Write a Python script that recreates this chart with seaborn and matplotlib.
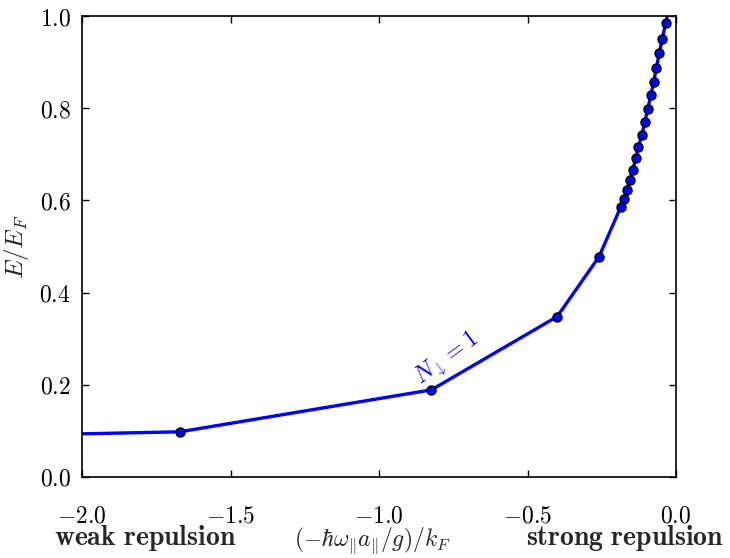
import matplotlib
matplotlib.use("Agg")
import matplotlib.pyplot as plt
from matplotlib.ticker import FuncFormatter, FixedLocator
import seaborn as sns
import pandas as pd

# data
coupling = [-2.5, -1.671, -0.8235, -0.400, -0.259, -0.186, -0.175, -0.166, -0.156,
            -0.145, -0.136, -0.127, -0.115, -0.105, -0.095, -0.085, -0.075, -0.066,
            -0.056, -0.046, -0.035, -0.024]
energy = [0.087, 0.098, 0.189, 0.348, 0.478, 0.586, 0.604, 0.623, 0.644, 0.667,
          0.691, 0.716, 0.742, 0.770, 0.798, 0.828, 0.857, 0.888, 0.920, 0.951,
          0.984, 1.016]
xticks = [-2.0, -1.5, -1.0, -0.5, 0.0]
yticks = [0.0, 0.2, 0.4, 0.6, 0.8, 1.0]

df = pd.DataFrame({"x": coupling, "y": energy})

sns.set_style("ticks")
plt.rcParams["mathtext.fontset"] = "cm"
plt.rcParams["font.family"] = ["DejaVu Serif"]

fig = plt.figure(figsize=(7.3, 5.58), dpi=100)
ax = fig.add_axes([82/730, 1-477/558, (676-82)/730, (477-16)/558])

sns.lineplot(data=df, x="x", y="y", ax=ax, color="blue", lw=2.4, marker="o",
             markersize=6.5, markerfacecolor="blue", markeredgecolor="black",
             markeredgewidth=1.0, sort=False)

ax.set_xlim(-2.0, 0.0)
ax.set_ylim(0.0, 1.0)
ax.xaxis.set_major_locator(FixedLocator(xticks))
ax.yaxis.set_major_locator(FixedLocator(yticks))
fmt = FuncFormatter(lambda v, p: r"$%.1f$" % v)
ax.xaxis.set_major_formatter(fmt)
ax.yaxis.set_major_formatter(fmt)
ax.tick_params(direction="in", length=5, width=1, top=True, right=True,
               labelsize=17, colors="black")
ax.tick_params(axis="x", pad=20)
ax.tick_params(axis="y", pad=8)
for s in ax.spines.values():
    s.set_linewidth(1.2)
    s.set_color("black")

ax.set_xlabel("")
ax.set_ylabel(r"$E/E_F$", fontsize=18, labelpad=6)

fig.text(372/730, 1-541/558, r"$(-\hbar\omega_{\Vert}a_{\Vert}/g)/k_F$",
         fontsize=17, ha="center", va="center")
fig.text(145/730, 1-538/558, r"$\mathbf{weak\ repulsion}$", fontsize=20,
         ha="center", va="center")
fig.text(625/730, 1-538/558, r"$\mathbf{strong\ repulsion}$", fontsize=20,
         ha="center", va="center")

ax.text(-0.773, 0.257, r"$N_{\downarrow}=1$", color="blue", fontsize=17,
        rotation=36, ha="center", va="center")

fig.savefig("out.png", dpi=100)
